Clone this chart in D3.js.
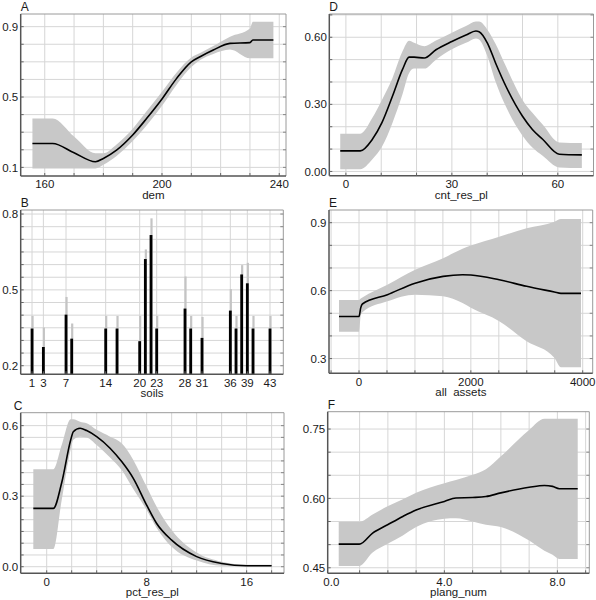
<!DOCTYPE html>
<html><head><meta charset="utf-8">
<script src="https://cdn.jsdelivr.net/npm/d3@7"></script>
<style>
html,body{margin:0;padding:0;background:#fff;}
svg{display:block;}
text{font-family:"Liberation Sans",Arial,sans-serif;fill:#1a1a1a;}
</style></head><body>
<svg id="c" width="596" height="600"></svg>
<script>
// ---------- DATA ----------
// Panel A: dem
const aX   = [155.8,162.7,170,177.3,180,184.5,190,194.8,200,205,210,213,217.5,223.2,230,231,238];
const aFit = [0.236,0.236,0.183,0.132,0.151,0.198,0.284,0.379,0.489,0.606,0.700,0.729,0.767,0.805,0.809,0.824,0.824];
const aHi  = [0.378,0.378,0.275,0.180,0.180,0.230,0.320,0.420,0.530,0.640,0.725,0.750,0.790,0.843,0.890,0.928,0.928];
const aLo  = [0.094,0.094,0.094,0.094,0.115,0.165,0.250,0.340,0.450,0.570,0.670,0.710,0.745,0.770,0.720,0.720,0.720];
const aXTicks = [160,200,240];
const aYTicks = [0.1,0.5,0.9];

// Panel D: cnt_res_pl
const dX   = [-1.6,4.06,7.5,10.2,13.2,16,17.9,19.3,22.2,25.5,30,34,36.8,37.7,40.1,42.4,45.3,50,52.8,55.7,60.4,66.8];
const dFit = [0.092,0.092,0.144,0.218,0.337,0.455,0.511,0.511,0.507,0.544,0.581,0.610,0.628,0.625,0.573,0.484,0.381,0.247,0.188,0.144,0.077,0.074];
const dHi  = [0.169,0.169,0.240,0.320,0.418,0.536,0.584,0.575,0.560,0.585,0.620,0.650,0.670,0.670,0.633,0.570,0.470,0.320,0.262,0.210,0.130,0.127];
const dLo  = [0.010,0.010,0.055,0.110,0.218,0.344,0.440,0.460,0.460,0.500,0.546,0.575,0.595,0.590,0.514,0.400,0.290,0.160,0.107,0.070,0.018,0.015];
const dXTicks = [0,30,60];
const dYTicks = [0.00,0.30,0.60];

// Panel B: soils
const bCats = [1,3,7,8,14,16,20,21,22,23,28,29,31,36,37,38,39,40,43];
const bVal  = [0.347,0.274,0.402,0.307,0.347,0.347,0.297,0.622,0.717,0.347,0.426,0.347,0.310,0.418,0.347,0.561,0.526,0.347,0.347];
const bHi   = [0.397,0.351,0.472,0.367,0.397,0.397,0.397,0.660,0.783,0.397,0.553,0.397,0.393,0.503,0.397,0.598,0.607,0.397,0.397];
const bXTicks = [1,3,7,14,20,23,28,31,36,39,43];
const bYTicks = [0.2,0.5,0.8];

// Panel E: all assets
const eX   = [-358,0,30,60,507,1003,1504,1851,2000,2507,2997,3493,3612,3970];
const eFit = [0.486,0.486,0.524,0.541,0.582,0.633,0.663,0.670,0.669,0.648,0.619,0.594,0.588,0.588];
const eHi  = [0.559,0.559,0.565,0.570,0.626,0.692,0.743,0.785,0.799,0.838,0.875,0.904,0.916,0.916];
const eLo  = [0.418,0.418,0.490,0.505,0.553,0.582,0.575,0.545,0.524,0.465,0.377,0.304,0.262,0.262];
const eXTicks = [0,2000,4000];
const eYTicks = [0.3,0.6,0.9];

// Panel C: pct_res_pl
const cX   = [-1.07,0.53,1.2,1.92,2.13,2.67,3.2,4,5.07,6,6.93,8,8.8,10,12,14,16,18];
const cFit = [0.248,0.248,0.357,0.539,0.574,0.589,0.579,0.553,0.504,0.447,0.376,0.262,0.184,0.113,0.043,0.014,0.004,0.004];
const cHi  = [0.415,0.415,0.518,0.627,0.627,0.617,0.610,0.582,0.553,0.525,0.454,0.340,0.255,0.156,0.060,0.021,0.008,0.008];
const cLo  = [0.075,0.075,0.284,0.500,0.540,0.553,0.550,0.518,0.465,0.411,0.330,0.241,0.165,0.085,0.026,0.004,0.002,0.002];
const cXTicks = [0,8,16];
const cYTicks = [0.0,0.3,0.6];

// Panel F: plang_num
const fX   = [0.26,0.99,1.46,1.99,2.53,3.0,4.0,4.41,5.0,5.47,6.0,7.0,7.54,7.83,8.07,8.72];
const fFit = [0.501,0.501,0.525,0.543,0.561,0.575,0.5935,0.601,0.602,0.604,0.612,0.624,0.628,0.626,0.621,0.621];
const fHi  = [0.549,0.549,0.565,0.583,0.598,0.612,0.633,0.640,0.651,0.663,0.691,0.748,0.772,0.772,0.772,0.772];
const fLo  = [0.454,0.454,0.483,0.502,0.520,0.538,0.556,0.557,0.550,0.543,0.538,0.509,0.487,0.478,0.469,0.469];
const fXTicks = [0.0,4.0,8.0];
const fYTicks = [0.45,0.60,0.75];

// ---------- LAYOUT ----------
const svg = d3.select("#c");
const panels = [
  {id:"A", title:"dem", r:[20.7,286,14,176], xd:[151.8,242.3], yd:[0.051,0.972],
   xt:aXTicks, yt:aYTicks, xg:d3.range(160,241,10), yg:d3.range(0.1,0.91,0.1), xf:d3.format("d"), yf:d3.format(".1f"),
   x:aX, fit:aFit, hi:aHi, lo:aLo, lx:0},
  {id:"D", title:"cnt_res_pl", r:[329.3,593.5,14,175.7], xd:[-4.7,70.1], yd:[-0.019,0.704],
   xt:dXTicks, yt:dYTicks, xg:d3.range(0,70,10), yg:d3.range(0,0.71,0.1), xf:d3.format("d"), yf:d3.format(".2f"),
   x:dX, fit:dFit, hi:dHi, lo:dLo, lx:0},
  {id:"B", title:"soils", r:[20.7,283.3,210,374.3], xd:[-1,45.35], yd:[0.166,0.816],
   xt:bXTicks, yt:bYTicks, xg:bXTicks, yg:d3.range(0.2,0.801,0.05), xf:d3.format("d"), yf:d3.format(".1f"),
   bars:true, lx:0},
  {id:"E", title:"all  assets", r:[329,592.7,210,373.3], xd:[-537,4179], yd:[0.235,0.956],
   xt:eXTicks, yt:eYTicks, xg:d3.range(-500,4001,500), yg:d3.range(0.3,0.91,0.1), xf:d3.format("d"), yf:d3.format(".1f"),
   x:eX, fit:eFit, hi:eHi, lo:eLo, lx:0},
  {id:"C", title:"pct_res_pl", r:[20.7,284,412.7,573.3], xd:[-2.08,18.99], yd:[-0.028,0.655],
   xt:cXTicks, yt:cYTicks, xg:d3.range(0,18.1,2), yg:d3.range(0,0.601,0.05), xf:d3.format("d"), yf:d3.format(".1f"),
   x:cX, fit:cFit, hi:cHi, lo:cLo, lx:-7},
  {id:"F", title:"plang_num", r:[327.7,589.3,411.7,573.3], xd:[-0.13,9.13], yd:[0.438,0.7875],
   xt:fXTicks, yt:fYTicks, xg:d3.range(1,9.01,1), yg:d3.range(0.45,0.751,0.05), xf:d3.format(".1f"), yf:d3.format(".2f"),
   x:fX, fit:fFit, hi:fHi, lo:fLo, lx:0}
];

panels.forEach(p => {
  const [L,R,T,B] = p.r;
  const xs = d3.scaleLinear().domain(p.xd).range([L,R]);
  const ys = d3.scaleLinear().domain(p.yd).range([B,T]);
  const g = svg.append("g");

  // grid
  g.selectAll(".gx").data(p.xg).join("line")
    .attr("x1",d=>xs(d)).attr("x2",d=>xs(d)).attr("y1",T).attr("y2",B)
    .attr("stroke","#d6d6d6").attr("stroke-width",1);
  g.selectAll(".gy").data(p.yg).join("line")
    .attr("y1",d=>ys(d)).attr("y2",d=>ys(d)).attr("x1",L).attr("x2",R)
    .attr("stroke","#d6d6d6").attr("stroke-width",1);

  if (p.bars) {
    const data = bCats.map((c,i)=>({c, v:bVal[i], h:bHi[i]}));
    g.selectAll(".bh").data(data).join("rect")
      .attr("x",d=>xs(d.c)-0.6).attr("width",2.2)
      .attr("y",d=>ys(d.h)).attr("height",d=>B-ys(d.h))
      .attr("fill","#c4c4c4");
    g.selectAll(".bv").data(data).join("rect")
      .attr("x",d=>xs(d.c)-1.4).attr("width",2.8)
      .attr("y",d=>ys(d.v)).attr("height",d=>B-ys(d.v))
      .attr("fill","#000");
  } else {
    const pts = p.x.map((x,i)=>({x, f:p.fit[i], h:p.hi[i], l:p.lo[i]}));
    g.append("path").datum(pts)
      .attr("d", d3.area().x(d=>xs(d.x)).y0(d=>ys(d.l)).y1(d=>ys(d.h)).curve(d3.curveMonotoneX))
      .attr("fill","#c8c8c8");
    g.append("path").datum(pts)
      .attr("d", d3.line().x(d=>xs(d.x)).y(d=>ys(d.f)).curve(d3.curveMonotoneX))
      .attr("fill","none").attr("stroke","#000").attr("stroke-width",1.6);
  }

  // frame
  g.append("line").attr("x1",L).attr("x2",R).attr("y1",T).attr("y2",T).attr("stroke","#9a9a9a").attr("stroke-width",1);
  g.append("line").attr("x1",R).attr("x2",R).attr("y1",T).attr("y2",B).attr("stroke","#9a9a9a").attr("stroke-width",1);
  g.append("line").attr("x1",L).attr("x2",L).attr("y1",T).attr("y2",B).attr("stroke","#555").attr("stroke-width",1.5);
  g.append("line").attr("x1",L).attr("x2",R).attr("y1",B).attr("y2",B).attr("stroke","#555").attr("stroke-width",1.5);

  // inner tick marks
  g.selectAll(".tb").data(p.xg).join("line")
    .attr("x1",d=>xs(d)).attr("x2",d=>xs(d)).attr("y1",B).attr("y2",B-3)
    .attr("stroke","#666");
  g.selectAll(".tl").data(p.yg).join("line")
    .attr("y1",d=>ys(d)).attr("y2",d=>ys(d)).attr("x1",L).attr("x2",L+3)
    .attr("stroke","#666");
  g.selectAll(".tr").data(p.yg).join("line")
    .attr("y1",d=>ys(d)).attr("y2",d=>ys(d)).attr("x1",R).attr("x2",R-3)
    .attr("stroke","#888");

  // tick labels
  g.selectAll(".xl").data(p.xt).join("text")
    .attr("x",d=>xs(d)).attr("y",B+12.3).attr("text-anchor","middle")
    .attr("font-size",11.5).text(d=>p.xf(d));
  g.selectAll(".yl").data(p.yt).join("text")
    .attr("x",L-2.5).attr("y",d=>ys(d)).attr("dy","0.36em").attr("text-anchor","end")
    .attr("font-size",11.5).text(d=>p.yf(d));

  // axis title
  g.append("text").attr("x",(L+R)/2).attr("y",B+23).attr("text-anchor","middle")
    .attr("font-size",11.5).style("white-space","pre").text(p.title);
  // panel letter
  g.append("text").attr("x",L+p.lx).attr("y",T-3).attr("font-size",12).text(p.id);
});
</script>
</body></html>
